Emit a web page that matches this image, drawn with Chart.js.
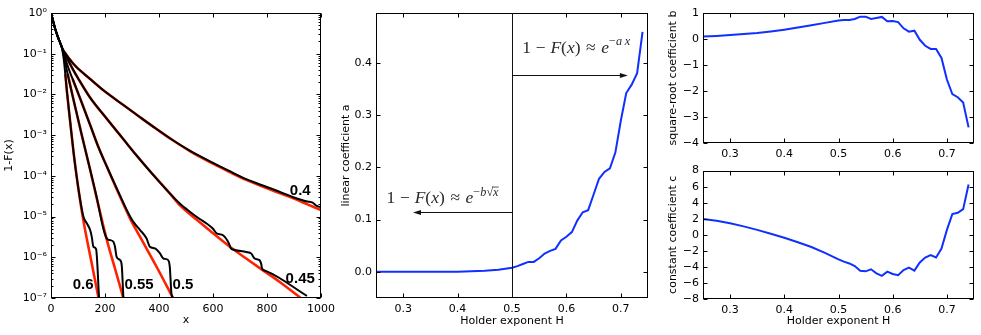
<!DOCTYPE html>
<html lang="en">
<head>
<meta charset="UTF-8">
<title>Tail distributions and fit coefficients</title>
<script src="https://cdn.jsdelivr.net/npm/chart.js"></script>
<style>
  body { margin: 0; background: #fff; }
  #fig { position: relative; width: 981px; height: 335px; overflow: hidden; background: #fff; }
  #fig canvas { position: absolute; }
</style>
</head>
<body>
<div id="fig">
  <canvas id="tailChart" width="340" height="335" style="left:0;top:0"></canvas>
  <canvas id="linearChart" width="330" height="335" style="left:328px;top:0"></canvas>
  <canvas id="sqrtChart" width="326" height="160" style="left:655px;top:0"></canvas>
  <canvas id="constChart" width="326" height="175" style="left:655px;top:160px"></canvas>
</div>
<script>
// ---- left panel: tails, pairs of [x, log10(1-F(x))] ----
const tail040 = [[0,0],[8,-0.2],[16,-0.4],[24,-0.56],[32,-0.7],[40,-0.84],[50,-0.96],[65,-1.1],[90,-1.3],[145,-1.62],[200,-1.93],[268,-2.26],[330,-2.56],[391,-2.85],[450,-3.12],[514,-3.38],[600,-3.68],[660,-3.88],[723,-4.08],[790,-4.25],[846,-4.39],[895,-4.52],[932,-4.6],[950,-4.63],[969,-4.66],[985,-4.74],[1000,-4.77]];
const fit040 = [[50,-0.96],[65,-1.1],[90,-1.3],[145,-1.62],[200,-1.93],[268,-2.26],[330,-2.56],[391,-2.85],[450,-3.12],[514,-3.39],[600,-3.7],[660,-3.9],[723,-4.1],[790,-4.28],[846,-4.42],[900,-4.56],[950,-4.7],[1000,-4.84]];
const tail045 = [[0,0],[8,-0.2],[16,-0.4],[24,-0.56],[32,-0.7],[40,-0.84],[50,-0.98],[59,-1.1],[80,-1.37],[100,-1.6],[145,-2.08],[207,-2.6],[268,-3.1],[317,-3.5],[391,-4.07],[440,-4.43],[477,-4.68],[514,-4.88],[551,-5.06],[576,-5.17],[600,-5.3],[613,-5.41],[637,-5.46],[659,-5.66],[666,-5.78],[674,-5.81],[723,-5.87],[742,-5.91],[754,-6.03],[772,-6.07],[778,-6.15],[782,-6.28],[797,-6.34],[948,-6.95]];
const fit045 = [[50,-0.98],[59,-1.1],[80,-1.37],[100,-1.6],[145,-2.08],[207,-2.6],[268,-3.1],[317,-3.5],[391,-4.07],[440,-4.43],[477,-4.72],[540,-5.08],[600,-5.41],[660,-5.73],[723,-6.03],[785,-6.32],[846,-6.6],[925,-7.0]];
const tail050 = [[0,0],[8,-0.2],[16,-0.4],[24,-0.56],[32,-0.7],[40,-0.84],[48,-1.0],[53,-1.12],[66,-1.38],[80,-1.62],[108,-2.1],[145,-2.75],[176,-3.3],[210,-3.82],[243,-4.3],[293,-5.0],[305,-5.13],[330,-5.33],[354,-5.54],[366,-5.74],[385,-5.78],[403,-5.9],[416,-6.03],[434,-6.07],[440,-6.24],[446,-6.89],[450,-6.98]];
const fit050 = [[80,-1.62],[108,-2.1],[145,-2.75],[176,-3.3],[210,-3.82],[243,-4.32],[293,-5.05],[330,-5.5],[390,-6.22],[452,-7.0]];
const tail055 = [[0,0],[8,-0.2],[16,-0.4],[24,-0.56],[32,-0.7],[40,-0.84],[48,-1.06],[60,-1.45],[84,-2.15],[114,-3.0],[145,-3.85],[170,-4.55],[194,-5.3],[207,-5.54],[220,-5.58],[231,-5.62],[237,-5.74],[243,-5.99],[256,-6.07],[262,-6.2],[268,-7.0]];
const fit055 = [[62,-1.5],[84,-2.15],[114,-3.0],[145,-3.85],[170,-4.57],[207,-5.58],[238,-6.3],[268,-7.0]];
const tail060 = [[0,0],[8,-0.2],[16,-0.4],[24,-0.56],[32,-0.7],[40,-0.84],[47,-1.12],[53,-1.5],[59,-1.93],[71,-2.67],[84,-3.45],[100,-4.25],[120,-5.0],[133,-5.17],[145,-5.33],[151,-5.5],[157,-5.74],[167,-5.8],[178,-7.0]];
const fit060 = [[53,-1.5],[59,-1.93],[71,-2.67],[84,-3.45],[100,-4.25],[120,-5.1],[150,-6.12],[176,-7.0]];
// curve labels: text, x, log10(y)
const curveLabels = [['0.4',923,-4.37],['0.45',923,-6.52],['0.5',489,-6.67],['0.55',326,-6.67],['0.6',119,-6.67]];
const tailXTicks = [0,200,400,600,800,1000];
const tailYTicks = [0,-1,-2,-3,-4,-5,-6,-7];

// ---- right panels: fitted coefficients against Holder exponent ----
const holder = [0.25,0.275,0.3,0.325,0.35,0.375,0.4,0.425,0.45,0.475,0.5,
  0.51,0.52,0.53,0.54,0.55,0.56,0.57,0.58,0.59,0.6,0.61,0.62,0.63,0.64,0.65,0.66,0.67,0.68,0.69,0.7,0.71,0.72,0.73,0.74];
const coefA = [0,0,0,0,0,0,0,0.001,0.002,0.004,0.008,
  0.011,0.015,0.019,0.019,0.026,0.035,0.040,0.044,0.060,0.067,0.076,0.098,0.114,0.118,0.148,0.178,0.191,0.198,0.228,0.289,0.342,0.358,0.380,0.459];
const coefB = [0.10,0.12,0.15,0.19,0.23,0.29,0.36,0.44,0.53,0.62,0.71,
  0.73,0.73,0.77,0.86,0.86,0.77,0.81,0.85,0.68,0.69,0.65,0.41,0.28,0.32,-0.03,-0.26,-0.38,-0.38,-0.73,-1.56,-2.12,-2.24,-2.44,-3.40];
const coefC = [1.97,1.75,1.43,1.05,0.61,0.13,-0.37,-0.93,-1.52,-2.25,-3.07,
  -3.35,-3.57,-3.9,-4.47,-4.55,-4.3,-4.8,-5.12,-4.59,-4.88,-5.04,-4.39,-4.1,-4.47,-3.44,-2.83,-2.54,-2.83,-1.72,0.61,2.58,2.75,3.2,6.27];
const holderTicks = [0.3,0.4,0.5,0.6,0.7];
const aTicks = [0,0.1,0.2,0.3,0.4];
const bTicks = [-4,-3,-2,-1,0,1];
const cTicks = [-8,-6,-4,-2,0,2,4,6,8];

Chart.defaults.font.family = '"DejaVu Sans", sans-serif';
Chart.defaults.font.size = 11;
Chart.defaults.color = '#000';
Chart.defaults.animation = false;
Chart.defaults.plugins.legend.display = false;
Chart.defaults.plugins.tooltip.enabled = false;
Chart.defaults.elements.point.radius = 0;
Chart.defaults.elements.line.tension = 0;

const SUP = {'-':'⁻','0':'⁰','1':'¹','2':'²','3':'³','4':'⁴','5':'⁵','6':'⁶','7':'⁷','8':'⁸','9':'⁹'};
const minus = v => String(v).replace('-', '−');

function axis(type, min, max, ticks, fmt, size, title, titlePad, isX) {
  return {
    type, min, max,
    grid: {display: false, drawTicks: false},
    border: {display: false},
    ticks: {padding: isX ? 5 : 4, autoSkip: false, maxRotation: 0, callback: fmt},
    afterBuildTicks: s => { s.ticks = ticks.map(v => ({value: v})); },
    afterFit: s => { if (isX) s.height = size; else s.width = size; },
    title: title ? {display: true, text: title, padding: isX ? {top: 0, bottom: titlePad} : {top: titlePad, bottom: 0}} : {display: false}
  };
}

// box around the plot area with matplotlib-style inward ticks
const framePlugin = {
  id: 'frame',
  afterDatasetsDraw(chart) {
    const {ctx, chartArea: a, scales: {x, y}} = chart;
    const l = Math.round(a.left) + 0.5, r = Math.round(a.right) - 0.5;
    const t = Math.round(a.top) + 0.5, b = Math.round(a.bottom) - 0.5;
    ctx.save();
    ctx.strokeStyle = '#000';
    ctx.lineWidth = 1;
    ctx.beginPath();
    x.ticks.forEach(tk => {
      const p = Math.round(x.getPixelForValue(tk.value)) + 0.5;
      ctx.moveTo(p, b); ctx.lineTo(p, b - 4);
      ctx.moveTo(p, t); ctx.lineTo(p, t + 4);
    });
    const yTick = (v, len) => {
      const p = Math.round(y.getPixelForValue(v)) + 0.5;
      ctx.moveTo(l, p); ctx.lineTo(l + len, p);
      ctx.moveTo(r, p); ctx.lineTo(r - len, p);
    };
    y.ticks.forEach(tk => yTick(tk.value, 4));
    if (y.type === 'logarithmic') {
      for (let d = -7; d < 0; d++) for (let k = 2; k < 10; k++) yTick(k * Math.pow(10, d), 2);
    }
    ctx.stroke();
    ctx.strokeRect(l, t, r - l, b - t);
    ctx.restore();
  }
};
Chart.register(framePlugin);

const toPoints = arr => arr.map(([px, ly]) => ({x: px, y: Math.pow(10, ly)}));
const tailSet = (arr, color, width, order) => ({
  data: toPoints(arr), borderColor: color, borderWidth: width, order, cubicInterpolationMode: 'monotone'
});

const tailLabelPlugin = {
  id: 'tailLabels',
  afterDatasetsDraw(chart) {
    const {ctx, scales: {x, y}} = chart;
    ctx.save();
    ctx.font = 'bold 15px "Liberation Sans", Arial, sans-serif';
    ctx.textAlign = 'center';
    ctx.textBaseline = 'middle';
    ctx.fillStyle = '#000';
    curveLabels.forEach(([txt, lx, ly]) => ctx.fillText(txt, x.getPixelForValue(lx), y.getPixelForValue(Math.pow(10, ly))));
    ctx.restore();
  }
};

const black = '#000', red = '#ff2200';
new Chart(document.getElementById('tailChart'), {
  type: 'line',
  data: {
    datasets: [
      tailSet(tail040, black, 2, 0), tailSet(tail045, black, 2, 0), tailSet(tail050, black, 2, 0),
      tailSet(tail055, black, 2, 0), tailSet(tail060, black, 2, 0),
      tailSet(fit040, red, 2.6, 1), tailSet(fit045, red, 2.6, 1), tailSet(fit050, red, 2.6, 1),
      tailSet(fit055, red, 2.6, 1), tailSet(fit060, red, 2.6, 1)
    ]
  },
  options: {
    responsive: false,
    layout: {padding: {left: 0, top: 13, right: 18, bottom: 0}},
    scales: {
      x: axis('linear', 0, 1000, tailXTicks, v => String(v), 37, 'x', 8, true),
      y: axis('logarithmic', 1e-7, 1, tailYTicks.map(e => Math.pow(10, e)),
        v => '10' + String(Math.round(Math.log10(v))).split('').map(c => SUP[c]).join(''), 51, '1-F(x)', 3, false)
    }
  },
  plugins: [tailLabelPlugin]
});

// math-style text: numbers are gaps in em, '^' superscript, '*' italic, '~' overline
const lawLinear = ['1', 0.27, '−', 0.27, '*F', '(', '*x', ')', 0.32, '≈', 0.32, '*e', '^−', '^*a', 0.15, '^*x'];
const lawSqrt = ['1', 0.27, '−', 0.27, '*F', '(', '*x', ')', 0.32, '≈', 0.32, '*e', '^−', '^*b', '^√', '^~*x'];

function drawMath(ctx, tokens, x, y, size) {
  let cx = x;
  tokens.forEach(tok => {
    if (typeof tok === 'number') { cx += tok * size; return; }
    let s = tok, sup = false, it = false, over = false;
    if (s[0] === '^') { sup = true; s = s.slice(1); }
    if (s[0] === '~') { over = true; s = s.slice(1); }
    if (s[0] === '*') { it = true; s = s.slice(1); }
    const fs = sup ? size * 0.7 : size;
    const by = sup ? y - size * 0.42 : y;
    ctx.font = (it ? 'italic ' : '') + fs + 'px "Liberation Serif", "DejaVu Serif", serif';
    ctx.fillText(s, cx, by);
    const w = ctx.measureText(s).width;
    if (over) ctx.fillRect(cx - 1, by - fs * 0.74, w + 1, 0.8);
    cx += w;
  });
}

function arrow(ctx, x0, x1, y) {
  const dir = Math.sign(x1 - x0);
  ctx.beginPath();
  ctx.moveTo(x0, y); ctx.lineTo(x1 - dir * 6, y);
  ctx.stroke();
  ctx.beginPath();
  ctx.moveTo(x1, y); ctx.lineTo(x1 - dir * 8, y - 2.5); ctx.lineTo(x1 - dir * 8, y + 2.5);
  ctx.closePath();
  ctx.fill();
}

const regimePlugin = {
  id: 'regimes',
  afterDatasetsDraw(chart) {
    const {ctx, chartArea: a, scales: {x, y}} = chart;
    ctx.save();
    ctx.strokeStyle = '#111';
    ctx.fillStyle = '#111';
    ctx.lineWidth = 1;
    const xm = Math.round(x.getPixelForValue(0.5)) + 0.5;
    ctx.beginPath(); ctx.moveTo(xm, a.top); ctx.lineTo(xm, a.bottom); ctx.stroke();
    const yUp = Math.round(y.getPixelForValue(0.377)) + 0.5;
    const yLo = Math.round(y.getPixelForValue(0.1137)) + 0.5;
    arrow(ctx, xm, x.getPixelForValue(0.713), yUp);
    arrow(ctx, xm, x.getPixelForValue(0.318), yLo);
    ctx.fillStyle = '#2a2a2a';
    ctx.textBaseline = 'alphabetic';
    drawMath(ctx, lawLinear, x.getPixelForValue(0.519), y.getPixelForValue(0.419), 17.5);
    drawMath(ctx, lawSqrt, x.getPixelForValue(0.2695), y.getPixelForValue(0.1316), 17.5);
    ctx.restore();
  }
};

const coefSet = vals => ({data: holder.map((h, i) => ({x: h, y: vals[i]})), borderColor: '#1030ff', borderWidth: 2});
const oneDec = v => minus(v.toFixed(1));

new Chart(document.getElementById('linearChart'), {
  type: 'line',
  data: {datasets: [coefSet(coefA)]},
  options: {
    responsive: false,
    layout: {padding: {left: 0, top: 13, right: 10, bottom: 0}},
    scales: {
      x: axis('linear', 0.25, 0.75, holderTicks, oneDec, 37, 'Holder exponent H', 7, true),
      y: axis('linear', -0.05, 0.495, aTicks, oneDec, 48, 'linear coefficient a', 12, false)
    }
  },
  plugins: [regimePlugin]
});

new Chart(document.getElementById('sqrtChart'), {
  type: 'line',
  data: {datasets: [coefSet(coefB)]},
  options: {
    responsive: false,
    layout: {padding: {left: 0, top: 13, right: 7, bottom: 0}},
    scales: {
      x: axis('linear', 0.25, 0.75, holderTicks, oneDec, 17, null, 0, true),
      y: axis('linear', -4, 1, bTicks, v => minus(v), 48, 'square-root coefficient b', 12, false)
    }
  }
});

new Chart(document.getElementById('constChart'), {
  type: 'line',
  data: {datasets: [coefSet(coefC)]},
  options: {
    responsive: false,
    layout: {padding: {left: 0, top: 8, right: 7, bottom: 0}},
    scales: {
      x: axis('linear', 0.25, 0.75, holderTicks, oneDec, 36, 'Holder exponent H', 7, true),
      y: axis('linear', -8, 8, cTicks, v => minus(v), 48, 'constant coefficient c', 12, false)
    }
  }
});
</script>
</body>
</html>
